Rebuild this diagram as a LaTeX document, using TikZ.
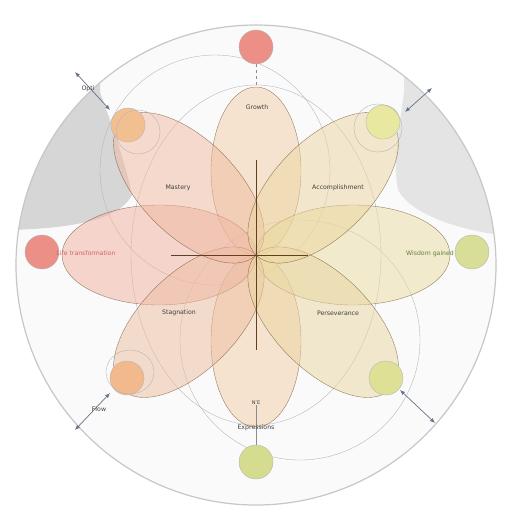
\documentclass[tikz,border=0pt]{standalone}
\usepackage{fontspec}
\setmainfont{DejaVu Sans}
\usetikzlibrary{arrows.meta}
\begin{document}
\begin{tikzpicture}[x=1pt,y=-1pt,
  petal/.style={draw=black!50!brown,draw opacity=0.7,line width=0.35pt,fill opacity=0.5},
  ring/.style={draw=black!30,line width=0.35pt},
  dot/.style={circle,minimum size=34pt,inner sep=0pt,draw=black!30,line width=0.35pt},
  lbl/.style={font=\fontsize{6.2}{7}\selectfont,text=black!75},
  radial/.style={draw={rgb,255:red,100;green,115;blue,140},line width=0.7pt,{Latex[length=5pt,width=4pt]}-{Latex[length=5pt,width=4pt]}}]
\useasboundingbox (0,0) rectangle (512,512);
\fill[white] (0,0) rectangle (512,512);
% big disc
\fill[black!2] (256,265) circle (240);
% shadows
\begin{scope}
\clip (256,265) circle (240);
\fill[black!22,opacity=0.7] (10,230) -- (10,60) -- (100,60) -- (100,92)
  .. controls (110,120) and (125,160) .. (132,195) .. controls (120,218) and (80,228) .. (10,230);
\fill[black!14,opacity=0.7] (404,92) -- (404,60) -- (500,60) -- (500,235) 
  .. controls (450,228) and (410,212) .. (398,190) .. controls (392,160) and (400,125) .. (404,92);
\end{scope}
\draw[black!22,line width=1.2pt] (256,265) circle (240);
% thin arcs
\draw[ring] (256,255) ellipse (125 and 170);
\draw[ring] (215,170) circle (115);
\draw[ring] (300,340) circle (120);
% petals
\begin{scope}[shift={(256,255)}]
  \fill[petal,fill={rgb,255:red,242;green,206;blue,165}] (0,-84) ellipse (45 and 84);
  \fill[petal,fill={rgb,255:red,242;green,206;blue,165}] (0,86) ellipse (45 and 86);
  \fill[petal,fill={rgb,255:red,241;green,176;blue,160}] (-97,0) ellipse (97 and 50);
  \fill[petal,fill={rgb,255:red,234;green,220;blue,160}] (97,0) ellipse (97 and 50);
  \begin{scope}[rotate=225]\fill[petal,fill={rgb,255:red,238;green,190;blue,160}] (95,0) ellipse (95 and 48);\end{scope}
  \begin{scope}[rotate=315]\fill[petal,fill={rgb,255:red,234;green,214;blue,160}] (95,0) ellipse (95 and 48);\end{scope}
  \begin{scope}[rotate=135]\fill[petal,fill={rgb,255:red,240;green,186;blue,160}] (95,0) ellipse (95 and 48);\end{scope}
  \begin{scope}[rotate=45]\fill[petal,fill={rgb,255:red,236;green,214;blue,160}] (95,0) ellipse (95 and 48);\end{scope}
\end{scope}
% cross
\coordinate (cT) at (256,160); \coordinate (cB) at (256,350);
\coordinate (cL) at (171,255); \coordinate (cR) at (308,255);
\draw[black!50!brown,line width=0.5pt] (cT) -- (cB);
\draw[black!50!brown,line width=0.5pt] (cL) -- (cR);
% outer dots
\node[dot,fill={rgb,255:red,236;green,143;blue,134}] (top) at (256,47) {};
\node[dot,fill={rgb,255:red,236;green,143;blue,134}] (left) at (42,252) {};
\node[dot,fill={rgb,255:red,216;green,221;blue,152}] (right) at (472,252) {};
\node[dot,fill={rgb,255:red,213;green,220;blue,144}] (bottom) at (256,462) {};
\node[dot,fill={rgb,255:red,242;green,192;blue,144}] (ul) at (128,125) {};
\node[dot,fill={rgb,255:red,232;green,232;blue,160}] (ur) at (383,122) {};
\node[dot,fill={rgb,255:red,242;green,186;blue,140}] (ll) at (127,378) {};
\node[dot,fill={rgb,255:red,222;green,224;blue,150}] (lr) at (386,378) {};
\draw[ring] (138,132) circle (22);
\draw[ring] (130,372) ellipse (24 and 22);
\draw[ring] (378,128) circle (24);
% connectors
\coordinate (pt) at (256,88); \coordinate (pb) at (256,405);
\draw[black!45,dashed,line width=0.4pt] (top) -- (pt);
\draw[black!45,line width=0.4pt] (pb) -- (bottom);
\coordinate (aUL) at (75,72); \coordinate (aUR) at (432,88);
\coordinate (aLL) at (75,430); \coordinate (aLR) at (435,423);
\draw[radial] (aUL) -- (110,110);
\draw[radial] (aUR) -- (405,112);
\draw[radial] (aLL) -- (110,393);
\draw[radial] (aLR) -- (400,390);
% labels
\node[lbl] (l1) at (257,107) {Growth};
\node[lbl] (l2) at (178,188) {Mastery};
\node[lbl] (l3) at (338,188) {Accomplishment};
\node[lbl,text={rgb,255:red,210;green,100;blue,100}] (l4) at (86,253) {Life transformation};
\node[lbl,text={rgb,255:red,100;green,130;blue,60}] (l5) at (430,254) {Wisdom gained};
\node[lbl] (l6) at (179,313) {Stagnation};
\node[lbl] (l7) at (338,313) {Perseverance};
\node[lbl] (l8) at (256,428) {Expressions};
\node[lbl] (l9) at (256,403) {\tiny N'E};
\node[lbl] (l10) at (88,89) {Opti};
\node[lbl] (l11) at (99,409) {Flow};
\end{tikzpicture}
\end{document}
